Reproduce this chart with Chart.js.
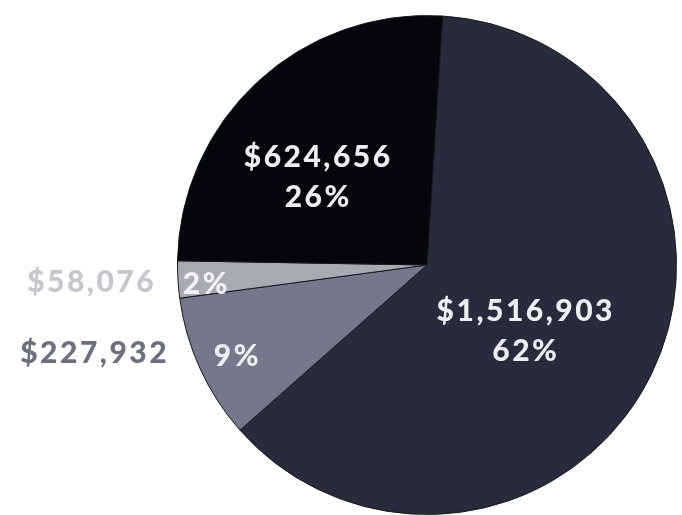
<!DOCTYPE html>
<html>
<head>
<meta charset="utf-8">
<script src="https://cdn.jsdelivr.net/npm/chart.js@4.4.1/dist/chart.umd.min.js"></script>
<style>
  html, body { margin: 0; padding: 0; background: #ffffff; }
  #wrap { width: 682px; height: 515px; }
</style>
</head>
<body>
<div id="wrap"><canvas id="c" width="682" height="515"></canvas></div>
<script>
// Data (clockwise from the top)
const categories = ["A", "B", "C", "D"];
const values = [1516903, 227932, 58076, 624656];
const valueLabels = ["$1,516,903", "$227,932", "$58,076", "$624,656"];
const percentLabels = ["62%", "9%", "2%", "26%"];

const sliceColors = ["#282b3c", "#75788a", "#a7a9b4", "#05060d"];

// label placement, relative to pie centre, in units of the radius
const labelStyle = [
  { both: true,  dx: 0.396, dy: 0.264, color: "#eceef4" },
  { both: false, dx: -0.76, dy: 0.368, color: "#eceef4", outDx: -1.332, outDy: 0.356, outColor: "#6e7081" },
  { both: false, dx: -0.884, dy: 0.076, color: "#f2f2f6", outDx: -1.344, outDy: 0.068, outColor: "#c6c7cd" },
  { both: true,  dx: -0.436, dy: -0.352, color: "#eceef4" }
];

const labelPlugin = {
  id: "sliceLabels",
  afterDatasetsDraw(chart) {
    const ctx = chart.ctx;
    const meta = chart.getDatasetMeta(0);
    const arc0 = meta.data[0];
    const cx = arc0.x, cy = arc0.y, r = arc0.outerRadius;
    ctx.save();
    ctx.font = "900 30px Lato";
    ctx.letterSpacing = "2.5px";
    ctx.textAlign = "center";
    ctx.textBaseline = "middle";
    meta.data.forEach((arc, i) => {
      const s = labelStyle[i];
      const x = cx + s.dx * r, y = cy + s.dy * r;
      ctx.fillStyle = s.color;
      if (s.both) {
        ctx.fillText(valueLabels[i], x, y - 20);
        ctx.fillText(percentLabels[i], x, y + 20);
      } else {
        ctx.fillText(percentLabels[i], x, y);
        ctx.fillStyle = s.outColor;
        ctx.fillText(valueLabels[i], cx + s.outDx * r, cy + s.outDy * r);
      }
    });
    ctx.restore();
  }
};

new Chart(document.getElementById("c"), {
  type: "pie",
  data: {
    labels: categories,
    datasets: [{
      data: values,
      backgroundColor: sliceColors,
      borderColor: "#16171f",
      borderWidth: 1
    }]
  },
  options: {
    responsive: false,
    animation: false,
    rotation: 3.6,
    layout: { padding: { left: 177, right: 5, top: 15, bottom: 0 } },
    plugins: { legend: { display: false }, tooltip: { enabled: false } }
  },
  plugins: [labelPlugin]
});
</script>
</body>
</html>
